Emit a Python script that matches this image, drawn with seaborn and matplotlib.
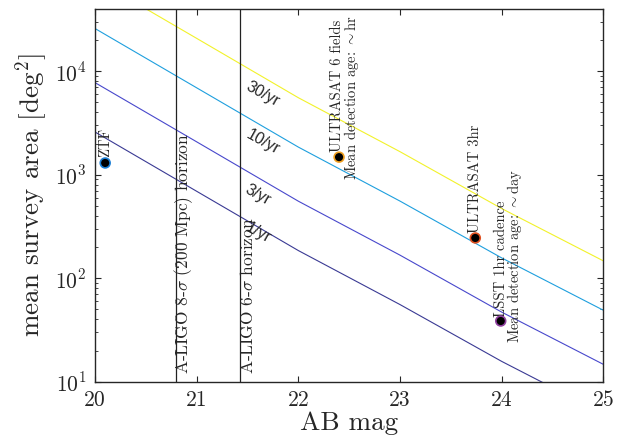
import matplotlib
matplotlib.use("Agg")
import matplotlib.pyplot as plt
import matplotlib.ticker as mticker
import numpy as np
import pandas as pd
import seaborn as sns

# ---- data ----
mags = [20, 21, 22, 23, 24, 25]
area_1yr = [2590, 692, 185, 55.6, 15.7, 4.9]
area_3yr = [7770, 2080, 555, 167, 47, 14.7]
area_10yr = [25900, 6920, 1850, 556, 157, 49]
area_30yr = [77700, 20800, 5550, 1670, 471, 147]
rate_labels = ["1/yr", "3/yr", "10/yr", "30/yr"]
rate_colors = ["#3a3a94", "#4848cc", "#1e9fde", "#f2f22a"]

survey_names = ["ZTF", "ULTRASAT 6 fields", "ULTRASAT 3hr", "LSST 1hr cadence"]
survey_mag = [20.10, 22.40, 23.74, 23.99]
survey_area = [1300, 1480, 245, 38.6]
survey_edge = ["#1a7fd6", "#f0a020", "#e05020", "#9040a0"]

ligo_mag = [20.80, 21.43]
ligo_labels = [r"A-LIGO 8-$\sigma$ (200 Mpc) horizon", r"A-LIGO 6-$\sigma$ horizon"]

# ---- style ----
sns.set_style("ticks")
plt.rcParams["font.family"] = ["cmr10"]
plt.rcParams["mathtext.fontset"] = "cm"
plt.rcParams["axes.formatter.use_mathtext"] = True

df = pd.DataFrame({
    "mag": mags * 4,
    "area": area_1yr + area_3yr + area_10yr + area_30yr,
    "rate": sum([[r] * len(mags) for r in rate_labels], []),
})
sv = pd.DataFrame({"mag": survey_mag, "area": survey_area, "name": survey_names})

fig = plt.figure(figsize=(6.17, 4.43), dpi=100)
ax = fig.add_axes([0.154, 0.1384, 0.824, 0.8413])

sns.lineplot(data=df, x="mag", y="area", hue="rate", palette=rate_colors,
             hue_order=rate_labels, linewidth=0.8, legend=False, ax=ax)
for xm in ligo_mag:
    ax.axvline(xm, color="#222222", linewidth=0.9)

sns.scatterplot(data=sv, x="mag", y="area", hue="name", palette=survey_edge,
                hue_order=survey_names, s=50, legend=False, ax=ax, zorder=5)
coll = ax.collections[-1]
coll.set_edgecolors(survey_edge)
coll.set_facecolors("black")
coll.set_linewidths(1.2)

ax.set_yscale("log")
ax.set_xlim(20, 25)
ax.set_ylim(10, 4e4)

ax.set_xticks(mags)
ax.xaxis.set_major_formatter(mticker.FuncFormatter(lambda v, p: f"{int(v)}"))
ax.yaxis.set_major_locator(mticker.LogLocator(base=10, numticks=10))
ax.yaxis.set_major_formatter(mticker.FuncFormatter(
    lambda v, p: r"$10^{%d}$" % int(round(np.log10(v)))))
ax.yaxis.set_minor_locator(mticker.LogLocator(base=10, subs=np.arange(2, 10), numticks=20))
ax.yaxis.set_minor_formatter(mticker.NullFormatter())
ax.xaxis.set_minor_locator(mticker.NullLocator())

ax.tick_params(which="both", direction="in", top=True, right=True, color="#262626")
ax.tick_params(which="major", length=4.5, width=0.8, labelsize=15.5, pad=6)
ax.tick_params(which="minor", length=2.5, width=0.6)
for sp in ax.spines.values():
    sp.set_visible(True)
    sp.set_linewidth(1.0)
    sp.set_color("#262626")

ax.set_xlabel("AB mag", fontsize=19.5, labelpad=1)
ax.set_ylabel(r"mean survey area [deg$^2$]", fontsize=19.5, labelpad=4)

# rate labels
rate_text_pos = [(21.60, 275), (21.60, 640), (21.65, 2090), (21.65, 5960)]
for (tx, ty), lab in zip(rate_text_pos, rate_labels):
    ax.text(tx, ty, lab, rotation=-29, ha="center", va="center",
            fontsize=11.5, family="Liberation Sans")

# LIGO labels
for xm, lab in zip(ligo_mag, ligo_labels):
    ax.annotate(lab, (xm, 10), xytext=(7, 8), textcoords="offset pixels",
                rotation=90, ha="center", va="bottom", fontsize=12.5)

# survey labels (offsets in pixels from the marker)
survey_text = [
    [("ZTF", (0, 6))],
    [("ULTRASAT 6 fields", (-1.5, 5)), (r"Mean detection age: ${\sim}$hr", (12.5, -23))],
    [("ULTRASAT 3hr", (0, 5))],
    [("LSST 1hr cadence", (0, 4)), (r"Mean detection age: ${\sim}$day", (14, -22))],
]
for xm, ym, lines in zip(survey_mag, survey_area, survey_text):
    for lab, off in lines:
        ax.annotate(lab, (xm, ym), xytext=off, textcoords="offset pixels",
                    rotation=90, ha="center", va="bottom", fontsize=10.5)

fig.savefig("out.png", dpi=100)
